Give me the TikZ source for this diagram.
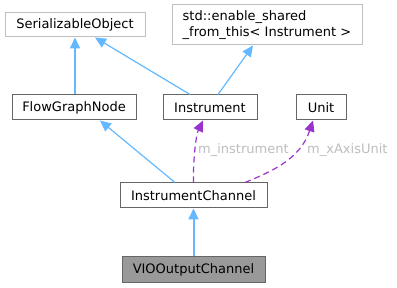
\documentclass[tikz,border=0pt]{standalone}
\usepackage{fontspec}
\setmainfont{DejaVu Sans}
\usetikzlibrary{arrows.meta}
\definecolor{inhblue}{HTML}{63B8FF}
\definecolor{usepurple}{HTML}{9A32CD}
\definecolor{lightborder}{HTML}{BFBFBF}
\definecolor{darkborder}{HTML}{666666}
\definecolor{labelgray}{HTML}{BDBDBD}
\definecolor{curfill}{HTML}{999999}
\tikzset{
  cls/.style={draw=darkborder, fill=white, line width=1pt, minimum height=25pt, inner sep=0pt, font=\fontsize{13}{16.5}\selectfont},
  ext/.style={cls, draw=lightborder},
  cur/.style={cls, fill=curfill},
  inh/.style={draw=inhblue, line width=1.2pt, -{Triangle[length=11pt,width=10pt]}},
  use/.style={draw=usepurple, line width=1.2pt, dashed, dash pattern=on 6pt off 4pt, -{Triangle[length=11pt,width=10pt]}},
  lbl/.style={text=labelgray, font=\fontsize{13}{16}\selectfont, inner sep=0pt, anchor=west},
}
\begin{document}
\begin{tikzpicture}[x=1pt,y=-1pt]
\useasboundingbox (0,0) rectangle (397,288);
\node[ext, minimum width=140pt, minimum height=24pt] (ser) at (75,25) {SerializableObject};
\node[ext, minimum width=190pt, minimum height=40pt, align=left] (std) at (267,25) {std::enable\_shared\\\_from\_this< Instrument >};
\node[cls, minimum width=124pt] (fgn) at (74,107.5) {FlowGraphNode};
\node[cls, minimum width=94pt] (ins) at (210,107.5) {Instrument};
\node[cls, minimum width=50pt] (unit) at (321,107.5) {Unit};
\node[cls, minimum width=147pt] (ic) at (193.5,195.5) {InstrumentChannel};
\node[cur, minimum width=143pt, minimum height=26pt] (vio) at (193.5,270) {VIOOutputChannel};

\draw[inh, line width=2pt] (fgn.north -| ser.south) -- (ser.south);
\draw[inh] ([xshift=-20pt]ins.north) -- ([xshift=20pt]ser.south);
\draw[inh] ([xshift=8pt]ins.north) -- ([xshift=-14pt]std.south);
\draw[inh] ([xshift=-18.5pt]ic.north) -- ([xshift=26pt]fgn.south);
\draw[inh, line width=2pt] (vio.north) -- (ic.north |- ic.south);
\draw[use] (ic.north) .. controls (193,160) and (196,135) .. ([xshift=-7pt]ins.south);
\draw[use] ([xshift=51.5pt]ic.north) .. controls (270,172) and (300,160) .. ([xshift=-8pt]unit.south);
\node[lbl] (l1) at (198,150) {m\_instrument};
\node[lbl] (l2) at (307,150) {m\_xAxisUnit};
\end{tikzpicture}
\end{document}
